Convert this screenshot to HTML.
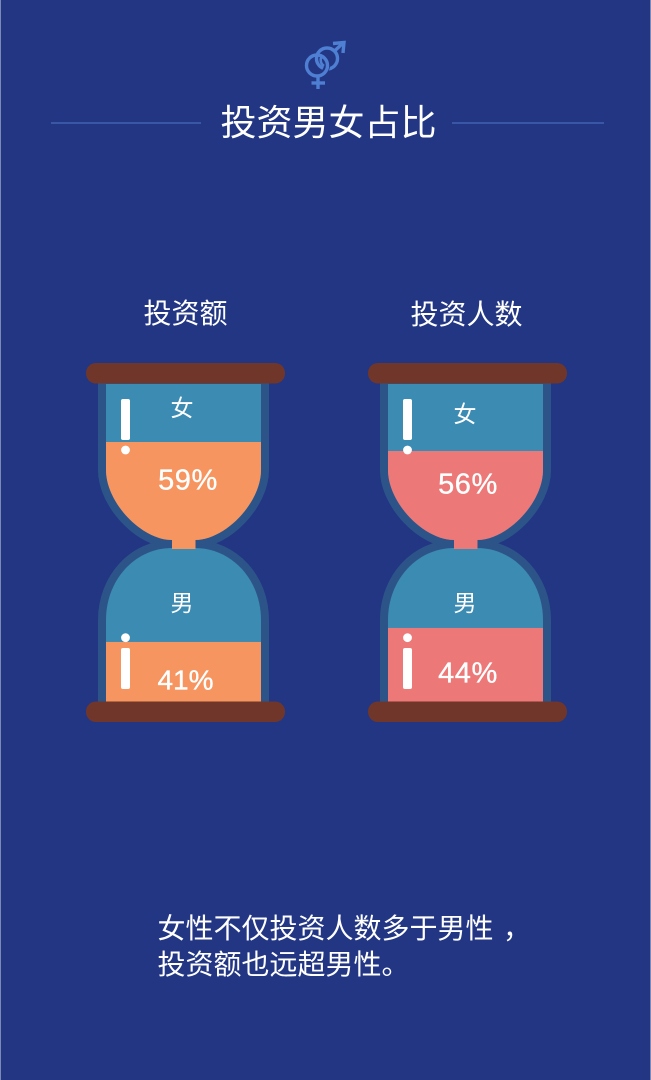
<!DOCTYPE html>
<html lang="zh">
<head>
<meta charset="utf-8">
<title>投资男女占比</title>
<style>
  html,body{margin:0;padding:0;background:#223684;}
  #stage{display:block;width:651px;height:1080px;}
  text{font-family:"Liberation Sans","Noto Sans CJK SC",sans-serif;fill:#fff;}
  .cjk{font-family:"Noto Sans CJK SC","WenQuanYi Zen Hei",sans-serif;font-weight:400;}
  .pct{stroke:#fff;stroke-width:0.35;}
</style>
</head>
<body>
<svg id="stage" xmlns="http://www.w3.org/2000/svg" width="651" height="1080" viewBox="0 0 651 1080">
  <rect x="0" y="0" width="651" height="1080" fill="#223684"/>
  <rect x="0" y="0" width="1" height="1080" fill="#7d88b5"/>
  <rect x="650" y="0" width="1" height="1080" fill="#7d88b5"/>

  <g fill="none" stroke="#4f7fd2" stroke-width="3.4">
    <circle cx="327" cy="58.5" r="10.5"/>
    <path d="M334.5 51 L342 44"/>
    <path d="M333 43.5 L344 42.5 L343 53"/>
    <path d="M327 66 A10.5 10.5 0 0 1 310 73" stroke="#223684" stroke-width="6"/>
    <circle cx="317" cy="65.5" r="10.5"/>
    <path d="M322 56 A7 7 0 0 0 324 66" stroke-width="2.6"/>
    <path d="M318 76 V89"/>
    <path d="M311.5 83 H325"/>
  </g>

  <rect x="51" y="122" width="150" height="2" fill="#3a57a6"/>
  <rect x="452" y="122" width="152" height="2" fill="#3a57a6"/>
  <text class="cjk" x="328.5" y="135" font-size="36" text-anchor="middle">投资男女占比</text>

  <g id="charts"></g>

  <text class="cjk" x="157.5" y="938" font-size="28">女性不仅投资人数多于男性<tspan x="503">，</tspan></text>
  <text class="cjk" x="157.5" y="974" font-size="28">投资额也远超男性。</text>
</svg>

<script>
var chartTitles = ["投资额", "投资人数"];
var femaleValues = [59, 56];
var maleValues = [41, 44];
var femaleLabel = "女";
var maleLabel = "男";
var fillColors = ["#f6955f", "#ec7878"];

var NS = "http://www.w3.org/2000/svg";
var root = document.getElementById("charts");

function yFemale(v) { return 619 - 3 * v; }
function yMale(v) { return 833.3 - 4.667 * v; }

function make(parent, tag, attrs, text) {
  var el = document.createElementNS(NS, tag);
  for (var k in attrs) { el.setAttribute(k, attrs[k]); }
  if (text !== undefined) { el.textContent = text; }
  parent.appendChild(el);
  return el;
}

function topPath(o) {
  return "M" + (o + 106) + " 384 V470 C" + (o + 106) + " 503 " + (o + 142) + " 540 " + (o + 172) +
    " 540 H" + (o + 195) + " C" + (o + 225) + " 540 " + (o + 261) + " 503 " + (o + 261) + " 470 V384 Z";
}
function bottomPath(o) {
  return "M" + (o + 106) + " 702 V620 C" + (o + 106) + " 580 " + (o + 135) + " 548 " + (o + 172) +
    " 548 H" + (o + 195) + " C" + (o + 232) + " 548 " + (o + 261) + " 580 " + (o + 261) + " 620 V702 Z";
}

chartTitles.forEach(function (title, i) {
  var o = i * 282;
  var color = fillColors[i];
  var yf = yFemale(femaleValues[i]);
  var ym = yMale(maleValues[i]);
  var g = make(root, "g", {});
  
  

  var heading = make(g, "text", { "class": "cjk", x: o === 0 ? 185.5 : 466.5, y: o === 0 ? 323 : 324, "font-size": 28, "text-anchor": "middle" }, title);
  
  

  var clipTop = make(g, "clipPath", { id: "clip-top-" + i });
  make(clipTop, "path", { d: topPath(o) });
  var clipBottom = make(g, "clipPath", { id: "clip-bottom-" + i });
  make(clipBottom, "path", { d: bottomPath(o) });

  var frameTop = make(g, "path", { d: topPath(o), fill: "#2d5488", stroke: "#2d5488", "stroke-width": 16 });
  
  
  var frameBottom = make(g, "path", { d: bottomPath(o), fill: "#2d5488", stroke: "#2d5488", "stroke-width": 16 });
  
  

  var chamberTop = make(g, "path", { d: topPath(o), fill: "#3b8bb3" });
  
  
  var chamberBottom = make(g, "path", { d: bottomPath(o), fill: "#3b8bb3" });
  
  

  var fillTop = make(g, "rect", { x: o + 100, y: yf, width: 170, height: 545 - yf, fill: color, "clip-path": "url(#clip-top-" + i + ")" });
  
  
  var fillBottom = make(g, "rect", { x: o + 100, y: ym, width: 170, height: 704 - ym, fill: color, "clip-path": "url(#clip-bottom-" + i + ")" });
  
  

  var neck = make(g, "rect", { x: o + 172, y: 538, width: 23.5, height: 11, fill: color });
  
  

  var capTop = make(g, "rect", { x: o + 86, y: 363, width: 199, height: 20.5, rx: 10, fill: "#703629" });
  
  
  var capBottom = make(g, "rect", { x: o + 86, y: 701.5, width: 199, height: 20.5, rx: 10, fill: "#703629" });
  
  

  var barTop = make(g, "rect", { x: o + 121, y: 399, width: 9, height: 41, rx: 2, fill: "#fff" });
  
  
  var dotTop = make(g, "circle", { cx: o + 125.5, cy: 450, r: 4.4, fill: "#fff" });
  
  
  var dotBottom = make(g, "circle", { cx: o + 125.5, cy: 637.7, r: 4.4, fill: "#fff" });
  
  
  var barBottom = make(g, "rect", { x: o + 121, y: 648, width: 9, height: 41, rx: 2, fill: "#fff" });
  
  

  var labelX = o === 0 ? 182 : 465;
  var labelF = make(g, "text", { "class": "cjk", x: labelX, y: o === 0 ? 416 : 422, "font-size": 23, "text-anchor": "middle" }, femaleLabel);
  
  
  var labelM = make(g, "text", { "class": "cjk", x: labelX, y: 611, "font-size": 23, "text-anchor": "middle" }, maleLabel);
  
  

  var valueF = make(g, "text", { "class": "pct", x: o === 0 ? 188 : 468, y: o === 0 ? 489.5 : 493.5, "font-size": 29, "letter-spacing": 0.6, "text-anchor": "middle" }, femaleValues[i] + "%");
  
  
  var valueM = make(g, "text", { "class": "pct", x: o === 0 ? 185.5 : 468, y: o === 0 ? 689.5 : 682.5, "font-size": o === 0 ? 28 : 29, "letter-spacing": o === 0 ? 0 : 0.6, "text-anchor": "middle" }, maleValues[i] + "%");
  
  
});
</script>
</body>
</html>
